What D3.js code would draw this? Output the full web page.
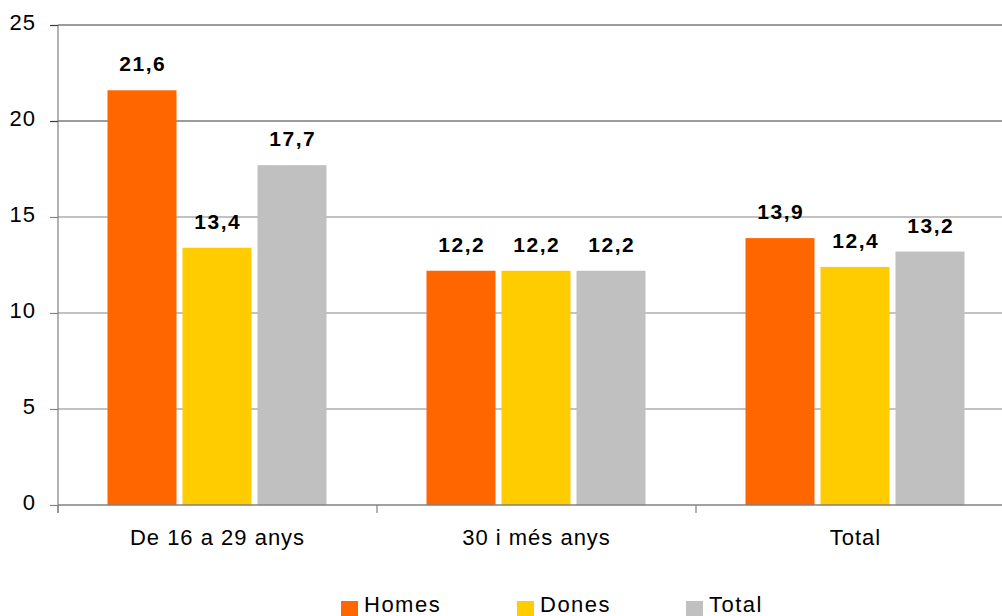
<!DOCTYPE html>
<html><head><meta charset="utf-8">
<script src="https://cdn.jsdelivr.net/npm/d3@7"></script>
<style>
html,body{margin:0;padding:0;background:#fff;overflow:hidden}
text{font-family:"Liberation Sans",Arial,sans-serif}
</style></head>
<body>
<svg id="chart" width="1002" height="616"></svg>
<script>
const categories = ["De 16 a 29 anys", "30 i més anys", "Total"];
const seriesNames = ["Homes", "Dones", "Total"];
const homes = [21.6, 12.2, 13.9];
const dones = [13.4, 12.2, 12.4];
const total = [17.7, 12.2, 13.2];
const yTicks = [0, 5, 10, 15, 20, 25];
const colors = ["#FF6600", "#FFCC00", "#C0C0C0"];
const seriesValues = [homes, dones, total];

const svg = d3.select("#chart");
const mLeft = 58, mRight = 1015, mTop = 25, mBottom = 505;
const FS = 22, LS = 1;
const gridColor = d => d >= 20 ? "#3a3a3a" : "#858585";

const x0 = d3.scaleBand().domain(categories).range([mLeft, mRight]).paddingInner(0).paddingOuter(0);
const x1 = d3.scaleBand().domain(seriesNames).range([-110, 109]).paddingInner(0.08).paddingOuter(0);
const y = d3.scaleLinear().domain([0, 25]).range([mBottom, mTop]);

// gridlines
svg.append("g").selectAll("line").data(yTicks.filter(d => d > 0)).join("line")
  .attr("x1", mLeft).attr("x2", mRight)
  .attr("y1", d => y(d)).attr("y2", d => y(d))
  .attr("stroke", gridColor).attr("stroke-width", 1.2);

// y axis
const yAxis = svg.append("g").attr("transform", `translate(${mLeft},0)`)
  .call(d3.axisLeft(y).tickValues(yTicks).tickSize(8).tickPadding(14).tickFormat(d3.format("d")));
yAxis.select(".domain").attr("stroke", "#808080").attr("stroke-width", 1.2).attr("d", `M0,${mTop}V${mBottom + 8}`);
yAxis.selectAll(".tick line").attr("stroke", d => gridColor(d)).attr("stroke-width", 1.2);
yAxis.selectAll(".tick text").attr("font-size", FS).attr("fill", "#000").attr("letter-spacing", LS)
  .attr("font-family", "Liberation Sans, Arial, sans-serif").attr("dy", "0.2em");

// bars
const groups = svg.append("g").selectAll("g").data(categories).join("g")
  .attr("transform", d => `translate(${x0(d) + x0.bandwidth() / 2},0)`);

groups.each(function(cat, ci) {
  const g = d3.select(this);
  seriesNames.forEach((s, si) => {
    const v = seriesValues[si][ci];
    g.append("rect")
      .attr("x", x1(s)).attr("width", x1.bandwidth())
      .attr("y", y(v)).attr("height", y(0) - y(v))
      .attr("fill", colors[si]);
    g.append("text")
      .attr("x", x1(s) + x1.bandwidth() / 2 + 0.75).attr("y", y(v) - 19)
      .attr("text-anchor", "middle").attr("font-weight", "bold").attr("font-size", 21)
      .attr("letter-spacing", 1.5)
      .text(d3.format(".1f")(v).replace(".", ","));
  });
});

// x axis
const xAxis = svg.append("g").attr("transform", `translate(0,${mBottom})`)
  .call(d3.axisBottom(x0).tickSize(0).tickPadding(36));
xAxis.select(".domain").attr("stroke", "#808080").attr("stroke-width", 1.5).attr("d", `M${mLeft},0H${mRight}`);
xAxis.selectAll(".tick text").attr("font-size", FS).attr("fill", "#000").attr("letter-spacing", LS)
  .attr("font-family", "Liberation Sans, Arial, sans-serif").attr("dy", "0.2em");
const bounds = categories.map(c => x0(c)).concat([mRight]);
xAxis.selectAll(".bound").data(bounds).join("line").attr("class", "bound")
  .attr("x1", d => d).attr("x2", d => d).attr("y1", 0).attr("y2", 8)
  .attr("stroke", "#808080").attr("stroke-width", 1.2);

// legend
const legendX = [341, 517, 686];
const leg = svg.append("g").selectAll("g").data(seriesNames).join("g")
  .attr("transform", (d, i) => `translate(${legendX[i]},600)`);
leg.append("rect").attr("width", 17).attr("height", 17).attr("y", 1).attr("fill", (d, i) => colors[i]);
leg.append("text").attr("x", 23).attr("y", 12).attr("font-size", FS).attr("letter-spacing", 1.5).text(d => d);
</script>
</body></html>
